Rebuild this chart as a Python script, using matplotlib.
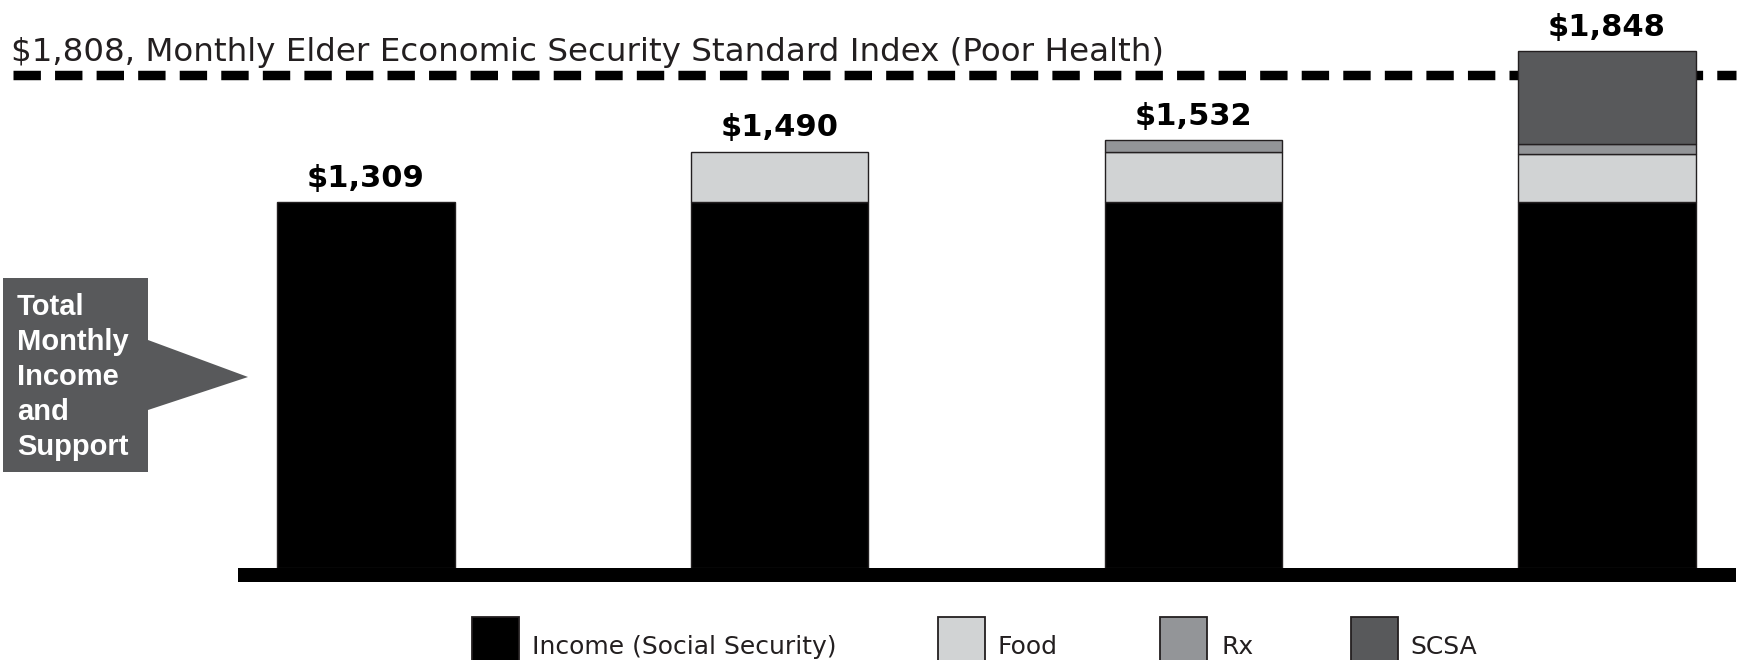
import matplotlib
matplotlib.use("Agg")
import matplotlib.pyplot as plt
import numpy as np
from matplotlib.patches import Polygon, Rectangle

# --- data ---
scenarios = ["Income", "Income + Food", "Income + Food + Rx", "Income + Food + Rx + SCSA"]
series_names = ["Income (Social Security)", "Food", "Rx", "SCSA"]
income = [1309, 1309, 1309, 1309]
food = [0, 181, 181, 171]
rx = [0, 0, 42, 36]
scsa = [0, 0, 0, 332]
eess_index = 1808
eess_line_level = 1765  # where the dashed line sits on the bar scale in the picture
eess_label = "Monthly Elder Economic Security Standard Index (Poor Health)"
callout_lines = ["Total", "Monthly", "Income", "and", "Support"]

colors = ["#000000", "#d1d3d4", "#939598", "#58595b"]
EDGE = "#231f20"

W, H = 1744, 660


def fx(px):
    """Figure pixel (from left) -> figure fraction."""
    return px / W


def fy(py):
    """Figure pixel (from top) -> figure fraction."""
    return 1 - py / H


fig = plt.figure(figsize=(W / 100, H / 100), dpi=100)

# Axes spans the whole figure; limits chosen so bars land where they do in the reference
PX_PER_UNIT = 413.67
PX_PER_DOLLAR = 0.2795
X0_PX, Y0_PX = 366, 568
ax = fig.add_axes([0, 0, 1, 1])
ax.set_xlim(-X0_PX / PX_PER_UNIT, (W - X0_PX) / PX_PER_UNIT)
ax.set_ylim(-(H - Y0_PX) / PX_PER_DOLLAR, Y0_PX / PX_PER_DOLLAR)
ax.axis("off")

# Stacked bars
x = np.arange(len(scenarios))
bottom = np.zeros(len(scenarios))
for vals, color in zip([income, food, rx, scsa], colors):
    vals = np.asarray(vals, dtype=float)
    mask = vals > 0
    ax.bar(x[mask], vals[mask], width=0.428, bottom=bottom[mask],
           color=color, edgecolor=EDGE, linewidth=1.0, zorder=2)
    bottom += vals

# Thick baseline
ax.axhspan(-50, 0, xmin=fx(238), xmax=fx(1736), color="black", lw=0, zorder=3)

# Totals above bars
for xi, total in zip(x, bottom):
    ax.annotate(f"${int(total):,}", (xi, total), xytext=(0, 11),
                textcoords="offset points", ha="center", va="baseline",
                fontsize=22, fontweight="bold", family="DejaVu Sans", color="black")

# EESS threshold line (behind bars)
ax.axhline(eess_line_level, xmin=fx(13), xmax=fx(1736), color="black", lw=6.8,
           linestyle=(0, (2.9, 1.5)), dash_capstyle="butt", zorder=1)
fig.text(fx(11), fy(61), f"${eess_index:,}, {eess_label}", fontsize=23.4,
         va="baseline", ha="left", color=EDGE, family="DejaVu Sans")

# Callout arrow box
pts = [(3, 278), (148, 278), (148, 340), (248, 377), (148, 410), (148, 472), (3, 472)]
fig.add_artist(Polygon([(fx(a), fy(b)) for a, b in pts], closed=True,
                       transform=fig.transFigure, facecolor="#58595b", edgecolor="none"))
for i, line in enumerate(callout_lines):
    fig.text(fx(17), fy(315 + 35 * i), line, fontsize=21, fontweight="bold",
             color="white", va="baseline", ha="left", family="Liberation Sans")

# Legend (drawn by hand, swatches run off the bottom edge as in the reference)
legend_pos = [(472, 532), (938, 997), (1160, 1221), (1351, 1410)]
for name, color, (bx, tx) in zip(series_names, colors, legend_pos):
    fig.add_artist(Rectangle((fx(bx), fy(690)), fx(47), 73 / H, transform=fig.transFigure,
                             facecolor=color, edgecolor=EDGE, linewidth=1.3))
    fig.text(fx(tx), fy(654), name, fontsize=18, color=EDGE, va="baseline",
             ha="left", family="DejaVu Sans")

fig.savefig("out.png", dpi=100)
